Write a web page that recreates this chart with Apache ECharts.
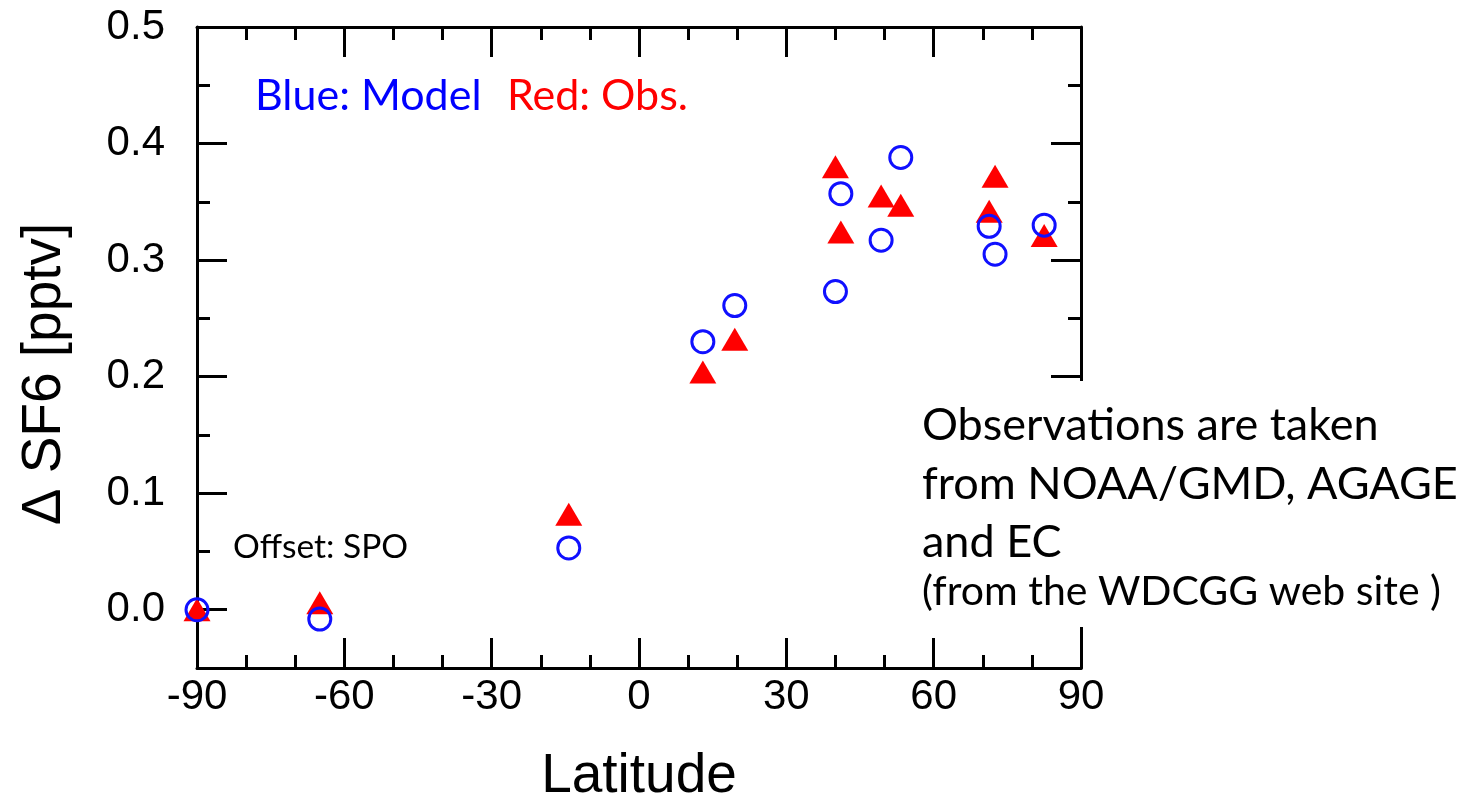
<!DOCTYPE html>
<html>
<head>
<meta charset="utf-8">
<script src="https://cdn.jsdelivr.net/npm/echarts@6/dist/echarts.min.js"></script>
<style>
html,body{margin:0;padding:0;background:#fff;}
#chart{width:1474px;height:801px;}
</style>
</head>
<body>
<div id="chart"></div>
<script>
// Model (blue circles)
const modelLat = [-90, -65, -14.3, 13.0, 19.5, 40.0, 41.1, 49.3, 53.3, 71.3, 72.5, 82.5];
const modelVal = [0.0, -0.008, 0.053, 0.230, 0.261, 0.273, 0.357, 0.317, 0.388, 0.329, 0.305, 0.330];
// Observations (red triangles)
const obsLat = [-90, -65, -14.3, 13.0, 19.5, 40.0, 41.1, 49.3, 53.3, 71.3, 72.5, 82.5];
const obsVal = [0.0, 0.006, 0.082, 0.204, 0.232, 0.380, 0.324, 0.355, 0.347, 0.342, 0.372, 0.321];
// Y tick labels
const yTicks = [0.0, 0.1, 0.2, 0.3, 0.4, 0.5];

const axisFont = 'Liberation Sans, Arial, Helvetica, sans-serif';
const annFont = 'Lato, "Open Sans", sans-serif';
const lineStyle = {color: '#000', width: 3};

const chart = echarts.init(document.getElementById('chart'), null, {renderer: 'canvas'});

const xCommon = {
  type: 'value', min: -90, max: 90, interval: 30,
  axisLine: {show: true, onZero: false, lineStyle: lineStyle},
  axisTick: {show: true, inside: true, length: 30, lineStyle: lineStyle},
  minorTick: {show: true, splitNumber: 3, length: 13, lineStyle: lineStyle},
  splitLine: {show: false}
};

const option = {
  animation: false,
  backgroundColor: '#fff',
  grid: {left: 197, right: 393, top: 27, bottom: 133, containLabel: false, outerBoundsMode: 'none'},
  xAxis: [
    Object.assign({}, xCommon, {
      position: 'bottom',
      name: 'Latitude', nameLocation: 'middle', nameGap: 81,
      nameTextStyle: {fontFamily: axisFont, fontSize: 55, color: '#000'},
      axisLabel: {show: true, margin: 8, fontFamily: axisFont, fontSize: 42, color: '#000'}
    }),
    Object.assign({}, xCommon, {position: 'top', axisLabel: {show: false}})
  ],
  yAxis: [
    {
      type: 'value', min: -0.05, max: 0.5, position: 'left',
      axisLine: {show: true, onZero: false, lineStyle: lineStyle},
      axisTick: {show: true, inside: true, length: 30, lineStyle: lineStyle, customValues: yTicks},
      axisLabel: {show: true, margin: 32, fontFamily: axisFont, fontSize: 42, color: '#000',
        customValues: yTicks, formatter: v => v.toFixed(1)},
      splitLine: {show: false}
    },
    {
      type: 'value', min: -0.05, max: 0.5, interval: 0.05, position: 'left',
      axisLine: {show: false, onZero: false},
      axisTick: {show: true, inside: true, length: 13, lineStyle: lineStyle},
      axisLabel: {show: false}, splitLine: {show: false}
    },
    {
      type: 'value', min: -0.05, max: 0.5, position: 'right',
      axisLine: {show: true, onZero: false, lineStyle: lineStyle},
      axisTick: {show: true, inside: true, length: 30, lineStyle: lineStyle, customValues: yTicks},
      axisLabel: {show: false}, splitLine: {show: false}
    },
    {
      type: 'value', min: -0.05, max: 0.5, interval: 0.05, position: 'right',
      axisLine: {show: false, onZero: false},
      axisTick: {show: true, inside: true, length: 13, lineStyle: lineStyle},
      axisLabel: {show: false}, splitLine: {show: false}
    }
  ],
  series: [
    {
      name: 'Obs.', type: 'scatter', xAxisIndex: 0, yAxisIndex: 0,
      symbol: 'triangle', symbolSize: [27, 23],
      itemStyle: {color: '#ff0000', opacity: 1},
      data: obsLat.map((x, i) => [x, obsVal[i]]),
      z: 3
    },
    {
      name: 'Model', type: 'scatter', xAxisIndex: 0, yAxisIndex: 0,
      symbol: 'circle', symbolSize: 22,
      itemStyle: {color: 'rgba(0,0,0,0)', borderColor: '#1010ff', borderWidth: 3, opacity: 1},
      data: modelLat.map((x, i) => [x, modelVal[i]]),
      z: 4
    }
  ],
  graphic: [
    {type: 'rect', z: 100, shape: {x: 915, y: 381, width: 559, height: 246}, style: {fill: '#fff'}},
    {type: 'text', z: 101, x: 45, y: 374, rotation: Math.PI / 2,
      style: {text: 'Δ SF6 [pptv]', font: '55px ' + axisFont, fill: '#000', align: 'center', verticalAlign: 'middle'}},
    {type: 'text', z: 101, left: 255, top: 75, style: {text: 'Blue: Model', font: '43px ' + annFont, fill: '#0000ff'}},
    {type: 'text', z: 101, left: 507, top: 75, style: {text: 'Red: Obs.', font: '43px ' + annFont, fill: '#ff0000'}},
    {type: 'text', z: 101, left: 233, top: 530, style: {text: 'Offset: SPO', font: '33.5px ' + annFont, fill: '#000'}},
    {type: 'text', z: 101, left: 922, top: 403, style: {text: 'Observations are taken', font: '45px ' + annFont, fill: '#000'}},
    {type: 'text', z: 101, left: 922, top: 462, style: {text: 'from NOAA/GMD, AGAGE', font: '45px ' + annFont, fill: '#000'}},
    {type: 'text', z: 101, left: 922, top: 520, style: {text: 'and EC', font: '45px ' + annFont, fill: '#000'}},
    {type: 'text', z: 101, left: 922, top: 571, style: {text: '(from the WDCGG web site )', font: '41px ' + annFont, fill: '#000'}}
  ]
};
chart.setOption(option);
</script>
</body>
</html>
